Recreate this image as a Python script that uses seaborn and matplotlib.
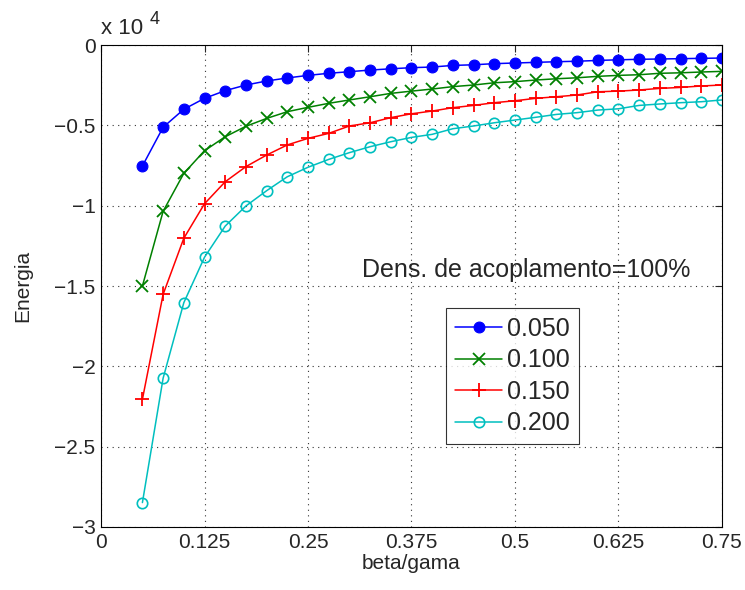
import numpy as np
import pandas as pd
import matplotlib
matplotlib.use("Agg")
import matplotlib.pyplot as plt
import seaborn as sns

# beta/gama sample points
beta_gama = [0.050, 0.075, 0.100, 0.125, 0.150, 0.175, 0.200, 0.225, 0.250, 0.275,
             0.300, 0.325, 0.350, 0.375, 0.400, 0.425, 0.450, 0.475, 0.500, 0.525,
             0.550, 0.575, 0.600, 0.625, 0.650, 0.675, 0.700, 0.725, 0.750]

# Energy values (units of 1e4)
energia_050 = [-0.753, -0.512, -0.400, -0.332, -0.284, -0.249, -0.224, -0.205, -0.189, -0.176,
               -0.166, -0.156, -0.148, -0.141, -0.137, -0.127, -0.123, -0.116, -0.112, -0.108,
               -0.104, -0.101, -0.096, -0.092, -0.089, -0.087, -0.085, -0.083, -0.081]
energia_100 = [-1.500, -1.035, -0.799, -0.658, -0.571, -0.506, -0.457, -0.415, -0.388, -0.363,
               -0.342, -0.322, -0.301, -0.287, -0.274, -0.259, -0.249, -0.235, -0.228, -0.218,
               -0.210, -0.204, -0.195, -0.189, -0.185, -0.176, -0.173, -0.168, -0.164]
energia_150 = [-2.205, -1.552, -1.203, -0.988, -0.851, -0.757, -0.685, -0.622, -0.581, -0.550,
               -0.504, -0.484, -0.452, -0.428, -0.411, -0.390, -0.376, -0.359, -0.347, -0.332,
               -0.322, -0.311, -0.291, -0.287, -0.280, -0.270, -0.264, -0.255, -0.249]
energia_200 = [-2.848, -2.074, -1.604, -1.321, -1.127, -1.002, -0.907, -0.820, -0.761, -0.712,
               -0.670, -0.633, -0.602, -0.575, -0.556, -0.521, -0.504, -0.484, -0.467, -0.450,
               -0.432, -0.421, -0.405, -0.397, -0.376, -0.367, -0.359, -0.353, -0.342]

series_labels = ["0.050", "0.100", "0.150", "0.200"]
x_ticks = [0, 0.125, 0.25, 0.375, 0.5, 0.625, 0.75]
x_ticklabels = ["0", "0.125", "0.25", "0.375", "0.5", "0.625", "0.75"]
y_ticks = [0, -0.5, -1, -1.5, -2, -2.5, -3]
y_ticklabels = ["0", "\u22120.5", "\u22121", "\u22121.5", "\u22122", "\u22122.5", "\u22123"]

sns.set_style("white")
plt.rcParams["font.family"] = ["Liberation Sans", "DejaVu Sans"]
plt.rcParams["font.size"] = 15

fig = plt.figure(figsize=(7.45, 5.9), dpi=100)
ax = fig.add_axes([0.1356, 0.1068, 0.8334, 0.8169])

styles = [
    dict(color="#0000ff", marker="o", markersize=7.8, markerfacecolor="#0000ff",
         markeredgecolor="#0000ff", markeredgewidth=0.8),
    dict(color="#008000", marker="x", markersize=8, markerfacecolor="#008000",
         markeredgecolor="#008000", markeredgewidth=1.3),
    dict(color="#ff0000", marker="+", markersize=10, markerfacecolor="#ff0000",
         markeredgecolor="#ff0000", markeredgewidth=1.3),
    dict(color="#00bfbf", marker="o", markersize=7.5, markerfacecolor="none",
         markeredgecolor="#00bfbf", markeredgewidth=1.2),
]

for vals, lab, st in zip([energia_050, energia_100, energia_150, energia_200], series_labels, styles):
    df = pd.DataFrame({"beta/gama": beta_gama, "Energia": vals})
    sns.lineplot(data=df, x="beta/gama", y="Energia", ax=ax, label=lab,
                 linewidth=1.1, linestyle="-", **st)

ax.set_xlim(0, 0.75)
ax.set_ylim(-3, 0)
ax.set_xticks(x_ticks)
ax.set_xticklabels(x_ticklabels)
ax.set_yticks(y_ticks)
ax.set_yticklabels(y_ticklabels)
ax.tick_params(direction="in", top=True, right=True, length=5, width=0.8, labelsize=15, pad=4)
ax.grid(True, linestyle=(0, (1, 4)), color="#333333", linewidth=0.8)
for s in ax.spines.values():
    s.set_color("black")
    s.set_linewidth(0.8)

ax.set_xlabel("beta/gama", fontsize=15, labelpad=2)
ax.set_ylabel("Energia", fontsize=15, labelpad=16)

# exponent multiplier above the y axis
ax.text(0.0, 1.012, "x 10", transform=ax.transAxes, fontsize=16, ha="left", va="bottom")
ax.text(0.078, 1.036, "4", transform=ax.transAxes, fontsize=13, ha="left", va="bottom")

ax.text(0.315, -1.40, "Dens. de acoplamento=100%", fontsize=18, ha="left", va="center")

leg = ax.legend(loc="upper left", bbox_to_anchor=(0.556, 0.454), frameon=True, fancybox=False,
                edgecolor="black", fontsize=18, handlelength=1.9, handletextpad=0.2,
                borderpad=0.35, labelspacing=0.3, borderaxespad=0)
leg.get_frame().set_linewidth(0.8)

fig.savefig("out.png", dpi=100)
